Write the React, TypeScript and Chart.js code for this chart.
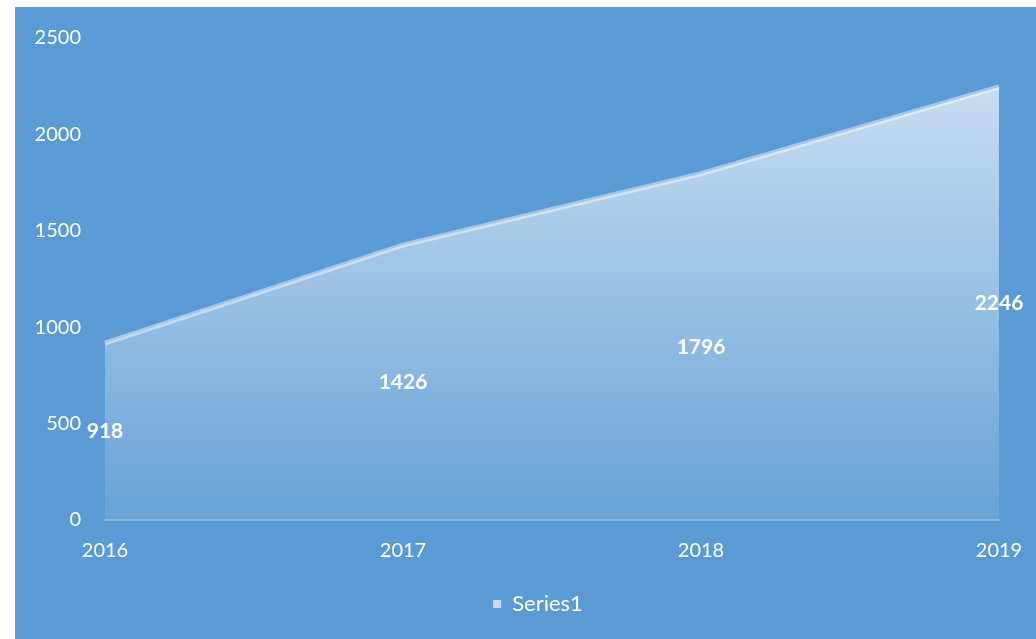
import React, { useEffect, useRef } from "react";
import { Chart, registerables } from "chart.js";

Chart.register(...registerables);

const categories = ["2016", "2017", "2018", "2019"];
const seriesName = "Series1";
const seriesValues = [918, 1426, 1796, 2246];
const yMax = 2500;
const yStep = 500;

const FONT = "Lato, 'Open Sans', sans-serif";
const BG = "#5b9bd5";

const dataLabelPlugin = {
  id: "midLabels",
  afterLayout(chart: any) {
    const l = chart.legend;
    if (l) {
      l.left += 31;
      l.right += 31;
    }
  },
  afterDatasetsDraw(chart: any) {
    const ctx = chart.ctx;
    const meta = chart.getDatasetMeta(0);
    const ys = chart.scales.y;
    ctx.save();
    ctx.font = `bold 21px ${FONT}`;
    ctx.fillStyle = "#ffffff";
    ctx.textAlign = "center";
    ctx.textBaseline = "middle";
    meta.data.forEach((pt: any, i: number) => {
      const v = seriesValues[i];
      ctx.fillText(String(v), pt.x, ys.getPixelForValue(v / 2));
    });
    ctx.restore();
  },
};

export default function App() {
  const ref = useRef<HTMLCanvasElement | null>(null);
  useEffect(() => {
    if (!ref.current) return;
    const chart = new Chart(ref.current, {
      type: "line",
      data: {
        labels: categories,
        datasets: [
          {
            label: seriesName,
            data: seriesValues,
            fill: "origin",
            tension: 0,
            pointRadius: 0,
            borderWidth: 5,
            borderColor: "rgba(255,255,255,0.45)",
            backgroundColor: (c: any) => {
              const ch = c.chart;
              const area = ch.chartArea;
              if (!area) return "rgba(255,255,255,0.4)";
              const ys = ch.scales.y;
              const top = ys.getPixelForValue(Math.max(...seriesValues));
              const g = ch.ctx.createLinearGradient(0, top, 0, area.bottom);
              g.addColorStop(0, "rgba(255,255,255,0.66)");
              g.addColorStop(1, "rgba(255,255,255,0.08)");
              return g;
            },
          },
        ],
      },
      options: {
        animation: false,
        responsive: false,
        maintainAspectRatio: false,
        layout: { padding: { top: 31, right: 37, left: 0, bottom: 14 } },
        scales: {
          x: {
            offset: false,
            grid: { display: false, drawTicks: false },
            border: { display: true, color: "rgba(255,255,255,0.25)", width: 2 },
            ticks: { color: "#ffffff", font: { family: FONT, size: 20 }, padding: 19, maxRotation: 0 },
            afterFit: (s: any) => {
              s.height = 63;
              s.paddingLeft = 0;
              s.paddingRight = 0;
            },
          },
          y: {
            min: 0,
            max: yMax,
            grid: { display: false, drawTicks: false },
            border: { display: false },
            ticks: {
              stepSize: yStep,
              color: "#ffffff",
              font: { family: FONT, size: 20 },
              padding: 24,
              callback: (v: any) => String(v),
            },
            afterFit: (s: any) => {
              s.width = 90;
              s.paddingTop = 0;
              s.paddingBottom = 0;
            },
          },
        },
        plugins: {
          legend: {
            position: "bottom",
            labels: {
              color: "#ffffff",
              font: { family: FONT, size: 22 },
              boxWidth: 8,
              boxHeight: 8,
              padding: 10,
              generateLabels: () => [
                {
                  text: seriesName,
                  fillStyle: "#c6dbef",
                  strokeStyle: "rgba(0,0,0,0)",
                  lineWidth: 0,
                  fontColor: "#ffffff",
                  datasetIndex: 0,
                },
              ],
            },
          },
          tooltip: { enabled: false },
        },
      },
      plugins: [dataLabelPlugin],
    });
    return () => chart.destroy();
  }, []);

  return (
    <div
      style={{
        position: "fixed",
        left: 15,
        top: 7,
        width: 1021,
        height: 632,
        background: BG,
      }}
    >
      <canvas ref={ref} width={1021} height={632} style={{ display: "block" }} />
    </div>
  );
}
